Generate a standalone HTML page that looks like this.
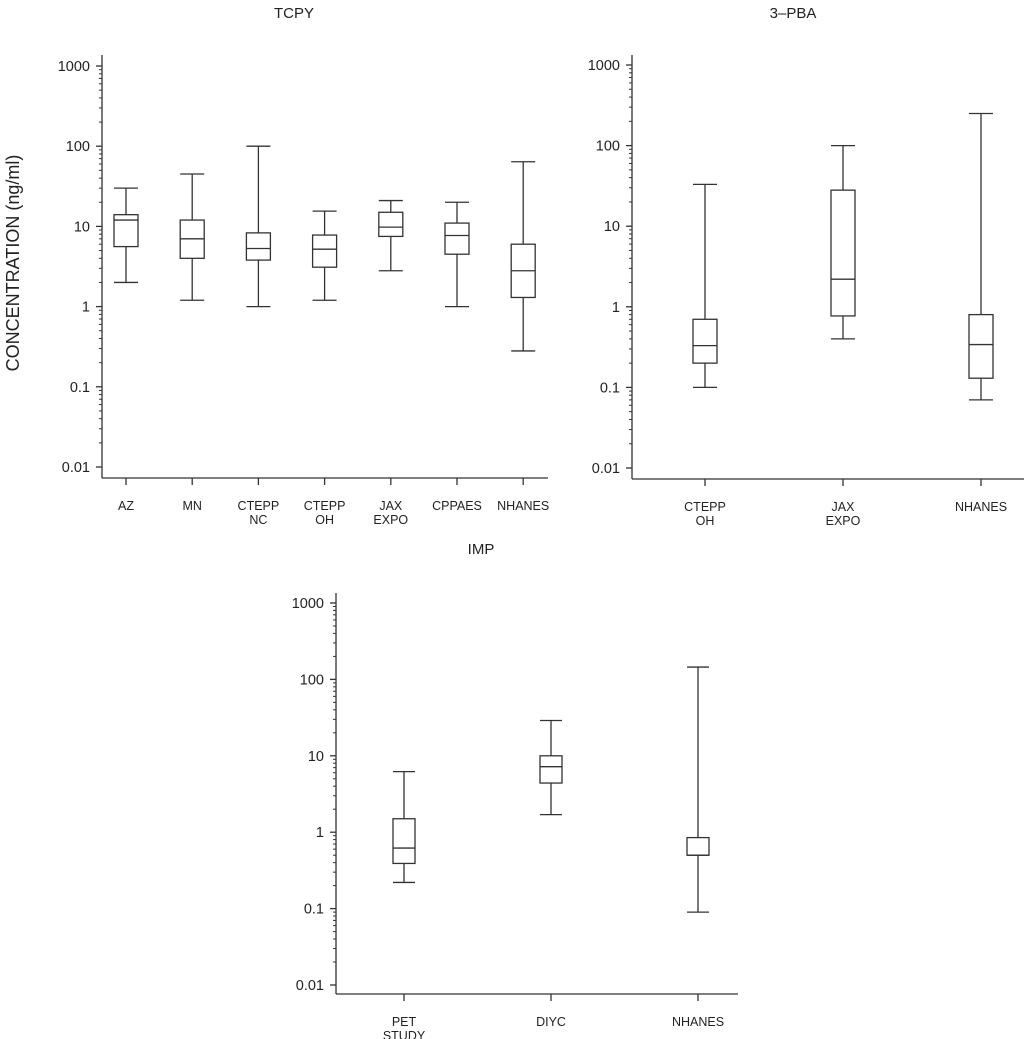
<!DOCTYPE html>
<html><head><meta charset="utf-8">
<style>
html,body{margin:0;padding:0;background:#fff;}
svg{display:block;}
text{font-family:"Liberation Sans",sans-serif;fill:#222;}
</style></head>
<body>
<svg id="chart" width="1024" height="1039" viewBox="0 0 1024 1039"></svg>
<script>
// TCPY
const tcpyCats = [["AZ"],["MN"],["CTEPP","NC"],["CTEPP","OH"],["JAX","EXPO"],["CPPAES"],["NHANES"]];
const tcpyMin = [2,1.2,1,1.2,2.8,1,0.28];
const tcpyQ1 = [5.6,4,3.8,3.1,7.5,4.5,1.3];
const tcpyMed = [12,7,5.3,5.2,9.8,7.7,2.8];
const tcpyQ3 = [14,12,8.3,7.8,15,11,6];
const tcpyMax = [30,45,100,15.5,21,20,64];
// 3-PBA
const pbaCats = [["CTEPP","OH"],["JAX","EXPO"],["NHANES"]];
const pbaMin = [0.1,0.4,0.07];
const pbaQ1 = [0.2,0.77,0.13];
const pbaMed = [0.33,2.2,0.34];
const pbaQ3 = [0.7,28,0.8];
const pbaMax = [33,100,250];
// IMP
const impCats = [["PET","STUDY"],["DIYC"],["NHANES"]];
const impMin = [0.22,1.7,0.09];
const impQ1 = [0.39,4.4,0.5];
const impMed = [0.62,7.2,0.5];
const impQ3 = [1.5,10,0.85];
const impMax = [6.2,29,145];
const yTickVals = [1000,100,10,1,0.1,0.01];
const yTickLabels = ["1000","100","10","1","0.1","0.01"];

const NS="http://www.w3.org/2000/svg";
const svg=document.getElementById('chart');
function el(tag,attrs,parent){const e=document.createElementNS(NS,tag);for(const k in attrs)e.setAttribute(k,attrs[k]);(parent||svg).appendChild(e);return e;}
const stroke={stroke:"#333","stroke-width":1.3,fill:"none"};

function panel(cfg){
  const g=el('g',{});
  
  
  const y=v=>cfg.y1000+(3-Math.log10(v))*(cfg.y001-cfg.y1000)/5;
  const x=i=>cfg.cx0+i*cfg.step;
  const ya=el('line',Object.assign({x1:cfg.ax,y1:cfg.top,x2:cfg.ax,y2:cfg.bot},stroke),g);
  
  
  const xa=el('line',Object.assign({x1:cfg.ax,y1:cfg.bot,x2:cfg.right,y2:cfg.bot},stroke),g);
  
  
  yTickVals.forEach((v,i)=>{
    const yy=y(v);
    el('line',Object.assign({x1:cfg.ax-6,y1:yy,x2:cfg.ax,y2:yy},stroke),g);
    const t=el('text',{x:cfg.ax-12,y:yy+5,'text-anchor':'end','font-size':14.5},g);
    t.textContent=yTickLabels[i];
    
    
    if(v>0.01){for(let m=2;m<=9;m++){const ym=y(v/10*m);el('line',Object.assign({x1:cfg.ax-3,y1:ym,x2:cfg.ax,y2:ym},stroke,{"stroke-width":1}),g);}}
  });
  cfg.cats.forEach((c,i)=>{
    const cx=x(i),hw=cfg.hw;
    el('line',Object.assign({x1:cx,y1:cfg.bot,x2:cx,y2:cfg.bot+7},stroke),g);
    c.forEach((s,j)=>{const t=el('text',{x:cx,y:cfg.bot+32+j*14,'text-anchor':'middle','font-size':12.5},g);t.textContent=s;
      
      });
    const b=el('g',{},g);
    
    
    el('line',Object.assign({x1:cx,y1:y(cfg.max[i]),x2:cx,y2:y(cfg.q3[i])},stroke),b);
    el('line',Object.assign({x1:cx,y1:y(cfg.q1[i]),x2:cx,y2:y(cfg.min[i])},stroke),b);
    el('line',Object.assign({x1:cx-hw,y1:y(cfg.max[i]),x2:cx+hw,y2:y(cfg.max[i])},stroke),b);
    el('line',Object.assign({x1:cx-hw,y1:y(cfg.min[i]),x2:cx+hw,y2:y(cfg.min[i])},stroke),b);
    el('rect',Object.assign({x:cx-hw,y:y(cfg.q3[i]),width:2*hw,height:y(cfg.q1[i])-y(cfg.q3[i])},stroke),b);
    el('line',Object.assign({x1:cx-hw,y1:y(cfg.med[i]),x2:cx+hw,y2:y(cfg.med[i])},stroke),b);
  });
  const tt=el('text',{x:cfg.tx,y:cfg.ty,'text-anchor':'middle','font-size':15},g);
  tt.textContent=cfg.title;
  
  
}
panel({name:'tcpy-panel',title:'TCPY',tx:294,ty:18,ax:102,top:55,bot:478,right:548,y1000:66,y001:467,cx0:126,step:66.2,hw:12,
  cats:tcpyCats,min:tcpyMin,q1:tcpyQ1,med:tcpyMed,q3:tcpyQ3,max:tcpyMax});
panel({name:'3pba-panel',title:'3\u2013PBA',tx:793,ty:18,ax:632,top:55,bot:479,right:1024,y1000:65,y001:468,cx0:705,step:138,hw:12,
  cats:pbaCats,min:pbaMin,q1:pbaQ1,med:pbaMed,q3:pbaQ3,max:pbaMax});
panel({name:'imp-panel',title:'IMP',tx:481,ty:554,ax:336,top:593,bot:994,right:738,y1000:603,y001:985,cx0:404,step:147,hw:11,
  cats:impCats,min:impMin,q1:impQ1,med:impMed,q3:impQ3,max:impMax});
const yl=el('text',{x:0,y:0,'text-anchor':'middle','font-size':18,transform:'translate(19,263) rotate(-90)'});
yl.textContent='CONCENTRATION (ng/ml)';


</script>
</body></html>
